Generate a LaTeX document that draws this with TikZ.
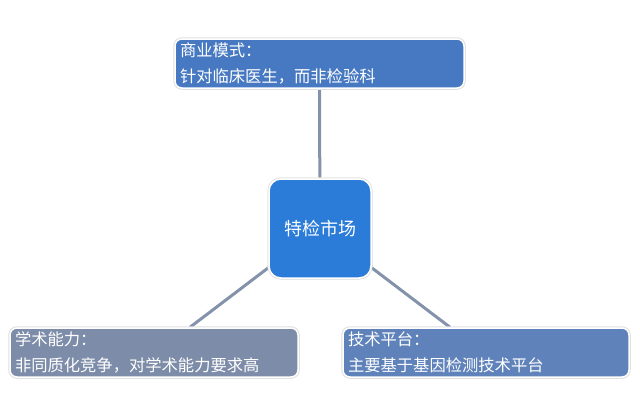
\documentclass[tikz,border=0pt]{standalone}
\usepackage{fontspec}
\newfontfamily\cjk{Noto Sans CJK SC}
\usetikzlibrary{backgrounds}
\definecolor{modelblue}{HTML}{4779C2}
\definecolor{hubblue}{HTML}{2B7BD9}
\definecolor{acadgray}{HTML}{7D8CA8}
\definecolor{techblue}{HTML}{5E82B9}
\definecolor{linkgray}{HTML}{8493AB}
\tikzset{
  infobox/.style={draw=white, line width=1.5pt, rounded corners=7pt, text=white,
    align=left, inner xsep=5pt, inner ysep=0pt, minimum height=49pt,
    preaction={draw=black!12, line width=3.5pt},
    font=\cjk\fontsize{16.3}{26}\selectfont},
  hubbox/.style={draw=white, line width=1.5pt, rounded corners=12pt, text=white,
    minimum width=102pt, minimum height=99pt, fill=hubblue,
    preaction={draw=black!10, line width=3.5pt},
    font=\cjk\fontsize{18}{22}\selectfont},
  link/.style={draw=linkgray, line width=3pt},
}

\begin{document}
\begin{tikzpicture}[x=1pt, y=-1pt]
        \useasboundingbox (0,0) rectangle (640,416);
        \node[hubbox] (hub) at (320,228.5) {特检市场};
        \node[infobox, fill=modelblue, text width=279pt] (model) at (319.5,63.5) {商业模式：\\针对临床医生，而非检验科};
        \node[infobox, fill=acadgray, text width=278pt] (academic) at (154,352.5) {学术能力：\\非同质化竞争，对学术能力要求高};
        \node[infobox, fill=techblue, text width=276pt] (tech) at (486,352.5) {技术平台：\\主要基于基因检测技术平台};
        \begin{scope}[on background layer]
            \fill[white] (0,0) rectangle (640,416);
            \draw[link] (hub.center) -- (model.south);
            \draw[link] (hub.center) -- ([xshift=36pt]academic.north);
            \draw[link] (hub.center) -- ([xshift=-36pt]tech.north);
        \end{scope}
    \end{tikzpicture}
\end{document}
